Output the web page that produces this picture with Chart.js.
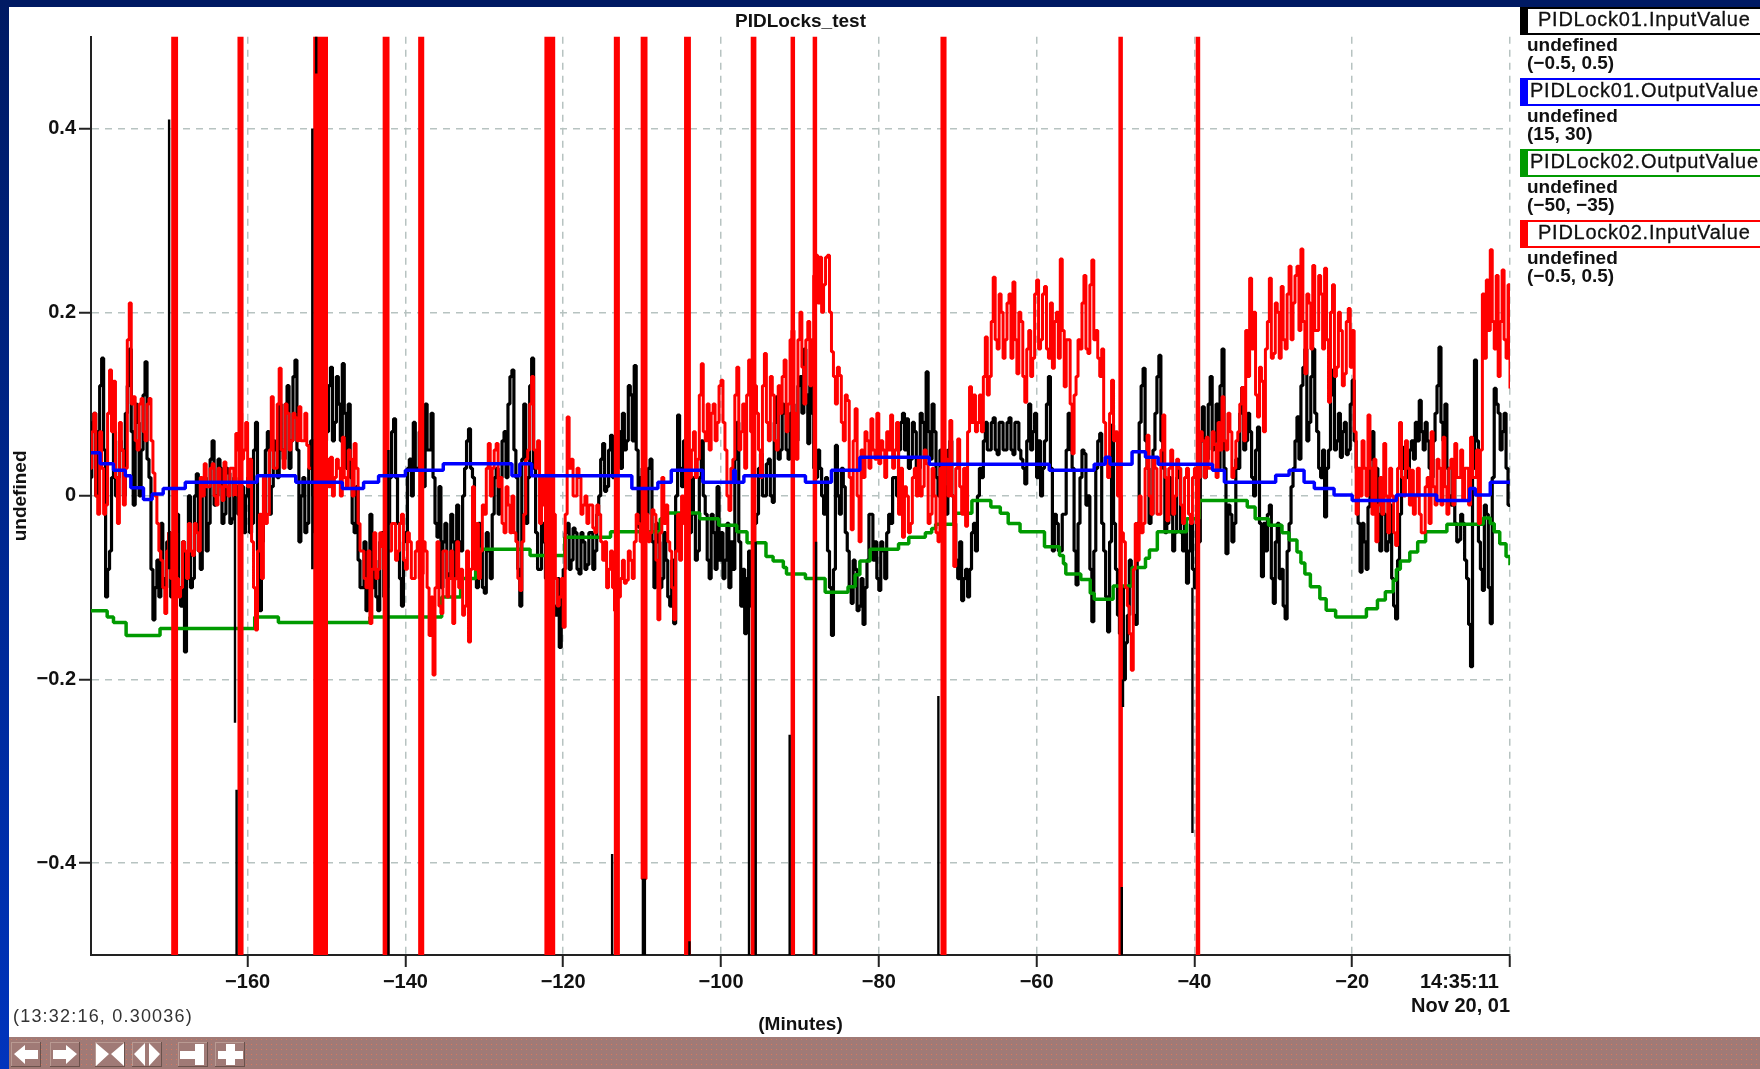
<!DOCTYPE html>
<html>
<head>
<meta charset="utf-8">
<title>PIDLocks_test</title>
<script src="https://cdn.jsdelivr.net/npm/chart.js@4/dist/chart.umd.min.js"></script>
<style>
    html, body { margin: 0; padding: 0; background: #fff; overflow: hidden; }
    body { position: relative; width: 1760px; height: 1069px; font-family: "Liberation Sans", sans-serif; color: #111; }
    #plot { position: absolute; left: 0; top: 0; }
    .topbar { position: absolute; left: 0; top: 0; width: 1760px; height: 7px; background: #001a63; }
    .sidebar { position: absolute; left: 0; top: 0; width: 9px; height: 1069px; background: linear-gradient(#001a63, #0034bd); }
    .key { position: absolute; left: 1520px; width: 240px; height: 24px; box-sizing: content-box; border: 2px solid; border-left-width: 8px; border-right: 0; font-size: 20px; line-height: 24px; white-space: nowrap; overflow: hidden; letter-spacing: 0.75px; -webkit-text-stroke: 0.3px #111; }
    .key span { position: absolute; top: -2px; }
    .note { position: absolute; left: 1527px; font-size: 19px; font-weight: bold; line-height: 18px; white-space: pre; }
    .cursor { position: absolute; left: 13px; top: 1006px; font-size: 18px; letter-spacing: 1.2px; color: #333; }
    .toolbar { position: absolute; left: 9px; top: 1037px; width: 1751px; height: 32px; background-color: #a07a76; background-image: radial-gradient(#d9795f 0.7px, transparent 1px); background-size: 5px 5px; }
    .toolbar svg { position: absolute; top: 5px; width: 30px; height: 25px; background: #a07a76; box-shadow: inset -1px -1px 0 #6b524c, inset 1px 1px 0 #b99a92; }
    .toolbar svg path { fill: #fff; }
</style>
</head>
<body>
<canvas id="plot" width="1760" height="1069"></canvas>
<div class="topbar"></div>
<div class="sidebar"></div>

<div class="key" style="top:7px;border-color:#000"><span style="left:10px">PIDLock01.InputValue</span></div>
<div class="note" style="top:36px">undefined
(−0.5, 0.5)</div>
<div class="key" style="top:78px;border-color:#0000ff"><span style="left:2px">PIDLock01.OutputValue</span></div>
<div class="note" style="top:107px">undefined
(15, 30)</div>
<div class="key" style="top:149px;border-color:#009a00"><span style="left:2px">PIDLock02.OutputValue</span></div>
<div class="note" style="top:178px">undefined
(−50, −35)</div>
<div class="key" style="top:220px;border-color:#ff0000"><span style="left:10px">PIDLock02.InputValue</span></div>
<div class="note" style="top:249px">undefined
(−0.5, 0.5)</div>

<div class="cursor">(13:32:16, 0.30036)</div>
<div class="toolbar">
    <svg style="left:2px" viewBox="0 0 30 25"><path d="M3 12 L14 3 V8 H27 V17 H14 V22 Z"/></svg>
    <svg style="left:41px" viewBox="0 0 30 25"><path d="M27 12 L16 3 V8 H3 V17 H16 V22 Z"/></svg>
    <svg style="left:86px" viewBox="0 0 30 25"><path d="M1 1 L14 12 L1 24 Z M29 1 L16 12 L29 24 Z"/></svg>
    <svg style="left:123px" viewBox="0 0 30 25"><path d="M13 1 L2 12 L13 24 Z M17 1 L28 12 L17 24 Z"/></svg>
    <svg style="left:169px" viewBox="0 0 30 25"><path d="M2 9 H17 V2 H26 V23 H17 V17 H2 Z"/></svg>
    <svg style="left:206px" viewBox="0 0 30 25"><path d="M11 2 H20 V9 H28 V17 H20 V23 H11 V17 H3 V9 H11 Z"/></svg>
</div>

<script>
// Data. Noisy traces: samples on the half minute from -180 to 0,
// and a second list for the quarter-minute samples in between.
const pidLock01Input = [
    0.02, 0.09, 0.07, 0.15, -0.11, -0.06, 0.07, 0.02, 0.05, 0.09, 0.16, -0.01, 0.08, 0.05, 0.146, 0.02, -0.135, -0.07, -0.03, -0.1,
    -0.04, -0.09, -0.02, -0.12, -0.17, 0, -0.09, 0.024, -0.08, 0.02, -0.03, 0.06, 0, 0.03, -0.02, 0.025, -0.025, 0.01, -0.03, -0.04,
    0.02, -0.03, 0.08, -0.125, -0.02, 0.07, 0.01, 0.05, 0.1, 0.04, 0.12, 0.06, 0.148, -0.05, 0.02, -0.03, 0.06, -0.04, 0.03, 0.02,
    0.07, 0.14, 0.08, 0.1, 0.144, 0.03, 0.02, -0.04, -0.07, -0.1, -0.125, -0.02, -0.07, -0.125, -0.04, -0.1, 0.02, 0.084, -0.03, -0.12,
    -0.04, 0.04, 0.08, 0.03, 0.06, 0.1, 0.05, 0.02, -0.045, -0.1, -0.03, -0.085, -0.05, -0.01, -0.06, 0.03, 0.073, 0.02, -0.1, -0.06,
    -0.106, -0.06, -0.02, 0.03, 0.02, 0.07, 0.1, 0.137, 0.02, -0.12, 0.1, 0.02, 0.15, -0.04, -0.08, -0.05, -0.1, -0.08, -0.13, -0.165,
    -0.08, -0.03, -0.07, -0.04, -0.085, -0.05, -0.075, -0.04, -0.06, 0, 0.057, 0.01, 0.066, 0.04, 0.07, 0.09, 0.06, 0.11, 0.142, -0.034,
    0.03, -0.02, 0.04, -0.1, -0.05, -0.09, -0.07, -0.12, -0.139, 0.088, 0.01, 0.04, -0.04, -0.02, -0.06, 0.06, -0.02, -0.09, -0.04, 0.01,
    -0.04, -0.07, -0.1, -0.08, 0.08, -0.12, -0.15, -0.06, -0.1, -0.02, 0.046, 0, 0.04, -0.007, 0.108, 0.05, 0.09, 0.04, 0.1, 0.06,
    0.13, 0.16, 0.057, 0.09, 0.02, 0.03, -0.02, -0.06, -0.152, 0.055, -0.02, 0.01, -0.06, -0.117, -0.08, -0.12, -0.14, -0.07, -0.02, -0.05,
    -0.103, -0.06, -0.04, -0.03, 0.02, 0.05, 0.09, 0.084, 0.04, 0.07, 0.03, 0.08, 0.135, 0.04, 0.07, 0, 0.04, -0.02, 0.06, -0.03,
    -0.09, -0.114, -0.08, -0.08, -0.03, 0, 0.02, 0.08, 0.05, 0.085, 0.045, 0.08, 0.05, 0.085, 0.045, 0.08, 0.04, 0.013, 0.1, 0.07,
    0.02, 0, 0.06, 0.13, -0.06, -0.03, -0.06, -0.02, 0.09, 0.03, -0.097, 0.02, 0.046, 0, -0.137, 0.03, 0.068, -0.06, -0.148, 0.077,
    -0.08, -0.15, -0.2, -0.13, -0.08, -0.14, 0.08, 0.139, 0.03, -0.02, 0.09, 0.153, 0.03, -0.03, -0.02, -0.04, 0.03, -0.06, -0.095, -0.03,
    -0.1, -0.05, 0.097, 0.04, 0.13, 0.06, 0.03, 0.16, -0.063, -0.02, -0.03, 0.03, 0.118, 0.06, 0.07, 0, 0.075, -0.088, -0.06, -0.01,
    -0.117, -0.03, -0.08, -0.134, -0.03, 0.03, 0.086, 0.12, 0.16, 0.08, 0.16, 0.07, 0.02, -0.023, 0.05, 0.137, 0.06, 0.042, 0.08, 0.05,
    0.126, 0.03, -0.083, -0.05, -0.012, 0.07, 0.03, -0.06, -0.02, -0.05, -0.09, -0.134, -0.02, 0.053, 0.03, 0.06, 0.08, 0.104, 0.05, 0.06,
    0.02, 0.09, 0.162, 0.06, 0.03, -0.01, -0.03, -0.048, -0.03, -0.09, -0.186, 0.148, -0.05, -0.103, -0.02, -0.139, 0.117, 0.09, 0.07, 0.03, -0.012
];
const pidLock01InputBetween = [
    0.08, 0, 0.12, 0.05, -0.08, 0.02, 0, 0.06, 0, 0.12, 0.07, 0.1, 0, 0.11, 0.04, -0.08, -0.1, -0.11, -0.09, -0.05,
    -0.11, -0.03, -0.1, -0.05, -0.09, -0.1, 0, -0.06, 0.01, -0.06, 0.04, -0.01, 0.04, -0.03, 0.03, -0.03, 0.02, -0.02, 0.01, 0,
    -0.04, 0.05, -0.06, -0.05, 0.05, -0.02, 0.06, 0.02, 0.05, 0.1, 0.03, 0.13, 0.05, 0, -0.04, 0.03, 0, 0.02, -0.02, 0.06,
    0.12, 0.06, 0.13, 0.06, 0.09, 0.1, -0.03, 0.01, -0.1, -0.05, -0.07, -0.1, -0.11, -0.05, -0.11, -0.03, 0.07, 0.02, -0.09, -0.05,
    0.03, 0, 0.03, 0.07, 0.01, 0.05, 0.09, -0.03, 0.01, -0.05, -0.09, -0.02, -0.09, -0.05, 0, 0.06, 0.03, -0.05, -0.03, -0.1,
    -0.04, -0.09, 0.02, -0.02, 0.06, 0.02, 0.13, 0.05, -0.08, 0.04, -0.03, 0.12, 0.03, -0.08, -0.03, -0.09, -0.06, -0.12, -0.09, -0.1,
    -0.04, -0.08, -0.035, -0.08, -0.04, -0.08, -0.04, -0.08, -0.02, 0.04, 0.005, 0.05, 0.02, 0.065, 0.03, 0.05, 0.12, 0.06, 0.05, 0.02,
    -0.03, 0.03, -0.05, -0.03, -0.1, -0.04, -0.11, -0.07, 0, 0.03, 0.06, -0.03, 0.02, -0.07, 0.02, 0, -0.07, -0.02, -0.08, -0.07,
    -0.09, -0.03, -0.05, 0.04, -0.05, -0.08, -0.09, -0.12, -0.03, 0.03, 0, 0.035, 0, 0.08, 0.04, 0.1, 0.05, 0.09, 0.05, 0.12,
    0.09, 0.11, 0.12, 0.03, 0.05, 0, 0.02, -0.1, -0.08, 0, 0.03, -0.04, -0.1, -0.07, -0.125, -0.09, -0.1, -0.02, -0.07, -0.09,
    -0.05, -0.09, -0.02, 0.02, 0, 0.08, 0.05, 0.03, 0.08, 0.03, 0.09, 0.04, 0.07, 0.1, 0.02, 0.05, 0.01, 0.05, 0, -0.07,
    -0.05, -0.09, -0.11, -0.04, -0.06, 0.03, 0.06, 0.05, 0.08, 0.05, 0.08, 0.05, 0.08, 0.05, 0.08, 0.05, 0.03, 0.06, 0.05, 0.09,
    0.06, 0.03, 0.1, 0.03, -0.02, -0.06, -0.02, 0.05, 0.05, -0.06, -0.03, 0.05, -0.01, -0.08, -0.06, 0.06, -0.03, -0.11, -0.05, -0.03,
    -0.13, -0.1, -0.16, -0.07, -0.13, -0.03, 0.12, 0.06, -0.03, 0.05, 0.13, 0.06, -0.04, 0.02, -0.06, 0.02, -0.04, -0.03, -0.06, -0.08,
    -0.02, 0.06, 0.02, 0.1, 0.05, 0.1, 0.12, 0.03, -0.01, -0.05, 0.04, 0.09, 0.05, 0.09, 0.02, 0.05, -0.03, -0.03, -0.02, -0.09,
    -0.05, -0.09, -0.12, -0.06, 0.01, 0.06, 0.04, 0.14, 0.06, 0.13, 0.09, 0.03, 0.05, 0.03, 0.11, 0.05, 0.09, 0.07, 0.045, 0.1,
    0.06, -0.03, -0.03, -0.08, 0.04, 0.01, -0.02, 0, -0.06, -0.01, -0.12, -0.07, 0.03, 0.02, 0.05, 0.04, 0.06, 0.07, 0.08, 0.03,
    0.06, 0.12, 0.08, 0.1, 0, 0.03, -0.05, -0.02, -0.07, -0.14, 0.03, 0.06, -0.08, -0.01, -0.1, 0.02, 0.1, 0.05, 0.09, -0.01
];
const pidLock02Input = [
    0.03, 0.09, -0.02, 0.03, -0.01, 0.137, 0.125, -0.03, 0.05, 0.03, 0.21, 0.108, 0.05, 0.106, 0.06, 0.106, 0.025, -0.03, -0.07, -0.128,
    -0.04, -0.07, -0.09, -0.1, -0.06, -0.03, -0.065, -0.04, 0.02, 0.035, 0.01, 0.035, -0.01, 0.01, 0.037, 0, 0.03, 0.068, 0.09, 0.05,
    0.01, -0.05, -0.146, -0.02, 0.02, -0.02, 0.108, 0.03, 0.139, 0.03, 0.09, 0.06, 0.085, 0.097, 0.06, 0.055, 0.03, 0, 0.03, 0.02,
    0.04, 0.042, 0.02, 0.03, 0.064, 0.01, 0.04, 0.057, -0.03, -0.06, -0.1, -0.139, -0.04, -0.08, -0.055, -0.03, -0.06, -0.03, -0.06, -0.02,
    -0.08, -0.05, -0.09, -0.05, -0.085, -0.06, -0.152, -0.195, -0.05, -0.128, -0.06, -0.09, -0.139, -0.05, -0.08, -0.12, -0.159, 0.01, -0.03, -0.06,
    -0.02, 0.057, 0.03, 0.057, 0.02, -0.04, -0.01, 0, -0.05, -0.103, -0.02, 0.05, 0.13, 0.03, -0.03, -0.01, 0.02, -0.05, -0.09, -0.11,
    -0.143, 0.086, 0.04, 0, 0.02, -0.01, -0.03, -0.01, -0.04, -0.02, -0.07, -0.1, -0.06, -0.125, -0.11, -0.07, -0.092, -0.07, -0.05, -0.03,
    -0.05, -0.02, -0.04, -0.02, -0.135, 0.02, -0.01, -0.06, -0.135, -0.02, 0, -0.02, 0.02, 0.07, 0.04, 0.144, 0.06, 0.05, 0.1, 0.08,
    0.126, 0.05, -0.016, 0.04, 0.14, 0.07, 0.03, 0.148, 0.05, 0.09, 0.02, 0.155, 0.06, 0.11, 0.05, 0.09, 0.148, 0.1, 0.18, 0.04,
    0.2, 0.1, 0.19, 0.17, 0.262, 0.26, 0.23, 0.262, 0.157, 0.1, 0.131, 0.06, 0.104, -0.037, 0.095, -0.05, 0.02, 0.06, 0.084, 0.04,
    0.035, 0.05, 0.07, 0.088, 0.05, -0.02, -0.045, 0, -0.03, 0.03, 0.04, 0.01, 0.035, -0.02, 0, -0.05, 0, 0.04, 0.082, -0.077,
    0.062, -0.02, -0.033, 0.119, 0.11, 0.08, 0.07, 0.173, 0.13, 0.238, 0.16, 0.2, 0.17, 0.22, 0.233, 0.133, 0.19, 0.102, 0.18, 0.15,
    0.235, 0.17, 0.228, 0.15, 0.139, 0.2, 0.258, 0.119, 0.17, 0.046, 0.13, 0.16, 0.24, 0.155, 0.257, 0.18, 0.13, 0.08, 0.02, 0.126,
    0.07, 0, -0.05, -0.12, -0.19, -0.03, 0, -0.03, 0.066, -0.02, 0.03, -0.02, 0.088, -0.027, 0.05, 0, 0.03, -0.03, 0.03, -0.03,
    0.03, 0.02, 0.06, 0.064, 0.03, 0.056, 0.08, 0.108, 0.05, 0.07, 0.03, 0.07, 0.118, 0.18, 0.237, 0.2, 0.086, 0.125, 0.16, 0.237,
    0.155, 0.2, 0.228, 0.16, 0.25, 0.21, 0.25, 0.269, 0.133, 0.21, 0.251, 0.18, 0.22, 0.248, 0.102, 0.23, 0.14, 0.18, 0.133, 0.204,
    0.18, -0.02, 0, 0.03, 0.088, -0.02, -0.05, 0.02, 0.057, -0.04, 0, -0.054, 0.08, 0, 0.03, 0.028, 0, -0.02, -0.04, 0.02,
    0.07, -0.01, 0.03, 0.064, -0.02, 0.04, 0.057, 0.02, -0.005, 0.03, 0.064, 0.02, -0.03, 0.22, 0.235, 0.268, 0.16, 0.13, 0.246, 0.15, 0.117
];
const pidLock02InputBetween = [
    0.07, 0, 0.07, -0.02, 0.09, 0.07, 0.02, 0.08, -0.01, 0.17, 0.1, 0.06, 0.1, 0.07, 0.1, 0.06, 0, -0.06, -0.1, -0.06,
    -0.09, -0.04, -0.11, -0.05, -0.09, -0.06, -0.03, -0.06, 0, 0.01, 0.03, 0, 0.03, -0.005, 0.01, 0.03, 0, 0.05, 0.04, 0.08,
    0.04, -0.1, -0.06, -0.09, -0.03, 0.05, 0.03, 0.1, 0.05, 0.1, 0.05, 0.09, 0.06, 0.06, 0.09, 0.03, 0.06, 0.03, 0, 0.05,
    0.01, 0, 0.04, 0, 0.02, 0.05, 0, 0.03, -0.06, -0.09, -0.06, -0.08, -0.09, -0.04, -0.08, -0.06, -0.03, -0.07, -0.03, -0.07,
    -0.04, -0.09, -0.06, -0.09, -0.05, -0.1, -0.11, -0.1, -0.12, -0.06, -0.11, -0.06, -0.09, -0.1, -0.13, -0.06, -0.08, -0.08, -0.09, -0.01,
    0.03, 0, 0.05, 0.01, -0.03, 0.01, -0.04, -0.04, -0.09, -0.05, 0.04, 0.1, 0.05, 0.06, 0.02, -0.05, -0.04, -0.02, -0.12, -0.09,
    -0.02, 0.03, 0, 0.03, -0.02, 0, -0.01, -0.035, -0.01, -0.05, -0.05, -0.08, -0.1, -0.09, -0.09, -0.095, -0.06, -0.09, -0.02, -0.05,
    -0.02, -0.05, -0.015, -0.07, -0.04, -0.03, -0.05, -0.1, -0.06, -0.07, -0.03, 0.03, 0.05, 0.02, 0.11, 0.07, 0.1, 0.09, 0.06, 0.12,
    0.08, 0, 0.03, 0.11, 0.05, 0.1, 0.11, 0.07, 0.12, 0.05, 0.12, 0.08, 0.13, 0.06, 0.12, 0.13, 0.07, 0.17, 0.09, 0.17,
    0.14, 0.17, 0.12, 0.24, 0.21, 0.2, 0.26, 0.2, 0.13, 0.14, 0.08, 0.11, 0.02, 0.06, 0, 0.05, 0.07, 0.03, 0.05, 0.09,
    0.06, 0.02, 0.05, 0.03, 0.08, 0.03, 0.01, -0.04, 0.02, 0, 0, 0.05, -0.03, 0.03, -0.04, 0.03, 0.05, 0, 0, 0.03,
    0.01, 0.03, 0.07, 0.08, 0.07, 0.11, 0.13, 0.11, 0.19, 0.17, 0.22, 0.15, 0.21, 0.15, 0.17, 0.2, 0.13, 0.16, 0.13, 0.22,
    0.16, 0.22, 0.16, 0.21, 0.19, 0.15, 0.18, 0.17, 0.1, 0.11, 0.17, 0.21, 0.16, 0.23, 0.17, 0.15, 0.16, 0.04, 0.09, 0.06,
    0, -0.04, -0.1, -0.15, -0.08, -0.07, -0.04, 0.03, 0, 0.04, -0.02, 0.05, 0.02, 0.03, -0.02, 0.04, -0.01, 0.02, -0.02, 0.02,
    -0.03, 0.07, 0.02, 0.03, 0.07, 0.02, 0.05, 0.06, 0.09, 0.02, 0.06, 0.1, 0.06, 0.13, 0.16, 0.11, 0.14, 0.07, 0.19, 0.15,
    0.21, 0.15, 0.17, 0.22, 0.17, 0.24, 0.18, 0.19, 0.22, 0.16, 0.18, 0.24, 0.16, 0.17, 0.2, 0.13, 0.2, 0.12, 0.19, 0.14,
    0.07, 0.03, 0.06, 0, 0.03, 0.04, -0.01, -0.02, 0, 0.03, -0.04, 0.03, 0.02, 0.06, -0.01, -0.02, 0.03, -0.04, 0.01, -0.03,
    0.01, 0.04, -0.01, 0.01, 0.03, -0.01, 0.02, 0.05, 0.03, -0.01, 0.02, 0.05, 0.05, 0.15, 0.18, 0.19, 0.24, 0.19, 0.17, 0.23
];

// Off-scale excursions of PIDLock02.InputValue, each run ends with a null
const redBurstMinutes = [
    -169.7, -169.4, -169.1, -169.1,
    -161.3, -161.0, -160.8, -160.8,
    -151.7, -151.4, -151.1, -150.8, -150.5, -150.1, -150.1,
    -142.9, -142.6, -142.3, -142.3,
    -138.3, -138.1, -137.9, -137.9,
    -122.4, -122.1, -121.8, -121.5, -121.3, -121.3,
    -113.6, -113.3, -113.1, -113.1,
    -110.1, -109.9, -109.6, -109.6,
    -104.7, -104.4, -104.1, -104.1,
    -96.2, -95.95, -95.8, -95.8,
    -91.1, -90.9, -90.9,
    -88.4, -88.1, -88.1,
    -72.2, -71.9, -71.7, -71.7,
    -49.7, -49.35, -49.35,
    -40.0, -39.55, -39.55
];
const redBurstValues = [
    0.8, -0.8, 0.8, null,
    0.8, -0.8, 0.8, null,
    0.8, -0.8, 0.8, -0.8, 0.8, -0.8, null,
    0.8, -0.8, 0.8, null,
    0.8, -0.8, 0.8, null,
    0.8, -0.8, 0.8, -0.8, 0.8, null,
    0.8, -0.8, 0.8, null,
    0.8, -0.417, 0.8, null,
    0.8, -0.8, 0.8, null,
    0.8, -0.8, 0.8, null,
    0.8, -0.8, null,
    0.8, -0.8, null,
    0.8, -0.8, 0.8, null,
    0.8, -0.8, null,
    0.8, -0.8, null
];

// Narrow excursions of PIDLock01.InputValue that show beside the red ones
const blackSpikeMinutes = [
    -169.95, -169.95, -169.95,
    -161.6, -161.6, -161.6,
    -161.4, -161.4, -161.4,
    -151.8, -151.8, -151.8,
    -151.3, -151.3, -151.3,
    -142.15, -142.15, -142.15,
    -113.8, -113.8, -113.8,
    -109.9, -109.9, -109.9,
    -109.65, -109.65, -109.65,
    -104.0, -104.0, -104.0,
    -96.45, -96.45, -96.45,
    -95.6, -95.6, -95.6,
    -91.3, -91.3, -91.3,
    -87.95, -87.95, -87.95,
    -72.45, -72.45, -72.45,
    -49.2, -49.2, -49.2,
    -49.05, -49.05, -49.05,
    -40.25, -40.25, -40.25
];
const blackSpikeValues = [
    0.41, -0.08, null,
    0, -0.247, null,
    -0.32, -0.6, null,
    0.4, -0.08, null,
    0.6, 0.46, null,
    0.05, -0.6, null,
    -0.39, -0.6, null,
    -0.417, -0.6, null,
    -0.417, -0.6, null,
    -0.485, -0.6, null,
    -0.07, -0.6, null,
    -0.05, -0.6, null,
    -0.26, -0.6, null,
    -0.05, -0.6, null,
    -0.218, -0.6, null,
    -0.426, -0.6, null,
    -0.2, -0.23, null,
    -0.1, -0.367, null
];

// PIDLock01.OutputValue, stepped: minute where it changes, and the new level
const blueMinutes = [
    -179.85, -178.7, -177, -175.5, -174.8, -173.2, -172.1, -170.7, -167.9, -158.8, -153.9, -148, -145.3, -143.4, -140, -135.2,
    -126.5, -125.5, -124, -111.3, -108, -106.3, -102.3, -98.4, -98.2, -97.7, -97.1, -89.3, -86, -82.4,
    -73.6, -58.4, -52.7, -51.3, -50.7, -47.9, -46.2, -44.6, -37.7, -36.2, -29.7, -28, -26.1, -24.8, -22.3, -20, -14.4, -9.3, -5.1, -4.4, -2.5, 0
];
const blueValues = [
    0.047, 0.035, 0.028, 0.022, 0.009, -0.004, 0.002, 0.008, 0.015, 0.022, 0.015, 0.008, 0.015, 0.022, 0.028, 0.035,
    0.022, 0.035, 0.022, 0.008, 0.015, 0.028, 0.015, 0.028, 0.015, 0.015, 0.022, 0.015, 0.028, 0.042,
    0.0345, 0.028, 0.0345, 0.042, 0.0345, 0.048, 0.042, 0.0345, 0.028, 0.015, 0.0225, 0.028, 0.015, 0.008, 0.001, -0.005, 0.001, -0.005, 0.008, 0.001, 0.015, 0.015
];

// PIDLock02.OutputValue, stepped the same way
const greenMinutes = [
    -179.85, -177.8, -177, -175.4, -171.1, -159.1, -156.1, -144.5, -135.4, -133, -131.1,
    -124.2, -119.8, -114, -107.7, -107.3, -102.7, -100.3, -98, -96.7, -94.3, -93.4, -92.1, -91.7, -89.3, -86.8, -83.9, -83, -82.4, -81.1, -77.5, -76.2,
    -74.1, -73.3, -72.8, -70.4, -68.2, -65.8, -64.6, -63.6, -62.1, -59, -57.1, -56.6, -56.3, -54.4, -53.2, -52.7, -52.5, -50.3, -47.9, -46.2, -45.7, -44.7, -43.7,
    -41, -39.4, -33.3, -32.3, -30.6, -28.9, -28, -27, -26.5, -26, -25.3, -24.1, -23.3, -22.1, -18.2, -16.8, -15.8, -14.8, -14.4, -13.9, -12.7, -11.7, -10.7, -8, -3.4, -2.5, -2, -1.3, -0.5, 0
];
const greenValues = [
    -0.125, -0.132, -0.138, -0.152, -0.1445, -0.132, -0.138, -0.132, -0.11, -0.09, -0.058,
    -0.065, -0.045, -0.039, -0.025, -0.0185, -0.025, -0.032, -0.039, -0.051, -0.066, -0.071, -0.078, -0.085, -0.09, -0.105, -0.099, -0.086, -0.071, -0.058, -0.052, -0.045,
    -0.04, -0.0355, -0.031, -0.019, -0.005, -0.012, -0.019, -0.03, -0.039, -0.0555, -0.065, -0.074, -0.085, -0.091, -0.106, -0.1125, -0.1125, -0.098, -0.078, -0.068, -0.059, -0.039, -0.039,
    -0.025, -0.005, -0.012, -0.025, -0.032, -0.04, -0.048, -0.061, -0.073, -0.085, -0.099, -0.112, -0.1245, -0.132, -0.123, -0.1135, -0.1045, -0.092, -0.08, -0.071, -0.061, -0.05, -0.039, -0.031, -0.024, -0.03, -0.039, -0.052, -0.066, -0.0755
];

const xTickValues = [-179.85, -160, -140, -120, -100, -80, -60, -40, -20, 0];
const yTickValues = [-0.4, -0.2, 0, 0.2, 0.4];

const tickFont = { family: '"Liberation Sans", sans-serif', size: 20, weight: 'bold' };
const gridColor = '#b7c3c1';

function toPoints(minutes, values) {
    return minutes.map(function (m, i) { return { x: m, y: values[i] }; });
}

// merge half-minute samples and the quarter-minute samples between them
function noisePoints(onTheHalf, between) {
    const points = [];
    onTheHalf.forEach(function (v, i) {
        points.push({ x: -180 + i / 2, y: v });
        if (i < between.length) points.push({ x: -179.75 + i / 2, y: between[i] });
    });
    return points;
}

function lineDataset(label, points, color, width, order, stepped) {
    return {
        label: label,
        data: points,
        borderColor: color,
        borderWidth: width,
        pointRadius: 0,
        stepped: stepped,
        spanGaps: false,
        borderJoinStyle: 'bevel',
        clip: 0,
        order: order
    };
}

new Chart(document.getElementById('plot'), {
    type: 'line',
    data: {
        datasets: [
            lineDataset('PIDLock01.InputValue', noisePoints(pidLock01Input, pidLock01InputBetween), '#000000', 3.2, 5, true),
            lineDataset('PIDLock01.InputValue spikes', toPoints(blackSpikeMinutes, blackSpikeValues), '#000000', 2.4, 2, false),
            lineDataset('PIDLock01.OutputValue', toPoints(blueMinutes, blueValues), '#0000ff', 3.5, 1, true),
            lineDataset('PIDLock02.OutputValue', toPoints(greenMinutes, greenValues), '#009a00', 3.5, 4, true),
            lineDataset('PIDLock02.InputValue', noisePoints(pidLock02Input, pidLock02InputBetween), '#ff0000', 3, 3, true),
            lineDataset('PIDLock02.InputValue bursts', toPoints(redBurstMinutes, redBurstValues), '#ff0000', 4.5, 3, true)
        ]
    },
    options: {
        responsive: false,
        animation: false,
        events: [],
        layout: { padding: { left: 0, right: 250, top: 0, bottom: 0 } },
        plugins: {
            legend: { display: false },
            tooltip: { enabled: false },
            title: {
                display: true,
                fullSize: false,
                text: 'PIDLocks_test',
                color: '#111',
                font: { family: tickFont.family, size: 19, weight: 'bold' },
                padding: { top: 10, bottom: 4 }
            }
        },
        scales: {
            x: {
                type: 'linear',
                min: -179.85,
                max: 0,
                afterBuildTicks: function (scale) {
                    scale.ticks = xTickValues.map(function (v) { return { value: v }; });
                },
                afterFit: function (scale) {
                    scale.height = 114;
                    scale.paddingLeft = 0;
                    scale.paddingRight = 0;
                },
                border: { display: true, color: '#222', width: 2, dash: [7, 6] },
                grid: {
                    color: function (ctx) { return ctx.tick && ctx.tick.value === xTickValues[0] ? 'transparent' : gridColor; },
                    tickColor: function (ctx) { return ctx.tick && ctx.tick.value === xTickValues[0] ? 'transparent' : '#222'; },
                    lineWidth: 1.5,
                    tickWidth: 2,
                    tickLength: 12
                },
                ticks: {
                    autoSkip: false,
                    maxRotation: 0,
                    minRotation: 0,
                    align: 'inner',
                    padding: 3,
                    color: '#111',
                    font: tickFont,
                    callback: function (value) {
                        if (value === 0) return ['14:35:11\u00a0\u00a0', 'Nov 20, 01'];
                        if (value === xTickValues[0]) return '';
                        return String(value).replace('-', '\u2212');
                    }
                },
                title: {
                    display: true,
                    text: '(Minutes)',
                    color: '#111',
                    font: { family: tickFont.family, size: 19, weight: 'bold' },
                    padding: { top: 0, bottom: 33 }
                }
            },
            y: {
                type: 'linear',
                min: -0.5,
                max: 0.5,
                afterBuildTicks: function (scale) {
                    scale.ticks = yTickValues.map(function (v) { return { value: v }; });
                },
                afterFit: function (scale) {
                    scale.width = 91;
                    scale.paddingTop = 0;
                    scale.paddingBottom = 0;
                },
                border: { display: true, color: '#222', width: 2, dash: [7, 6] },
                grid: { color: gridColor, tickColor: '#222', lineWidth: 1.5, tickWidth: 2, tickLength: 12 },
                ticks: {
                    padding: 3,
                    color: '#111',
                    font: tickFont,
                    callback: function (value) {
                        return String(value).replace('-', '\u2212');
                    }
                },
                title: {
                    display: true,
                    text: 'undefined',
                    color: '#111',
                    font: { family: tickFont.family, size: 19, weight: 'bold' },
                    padding: { top: 9, bottom: 0 }
                }
            }
        }
    }
});
</script>
</body>
</html>
